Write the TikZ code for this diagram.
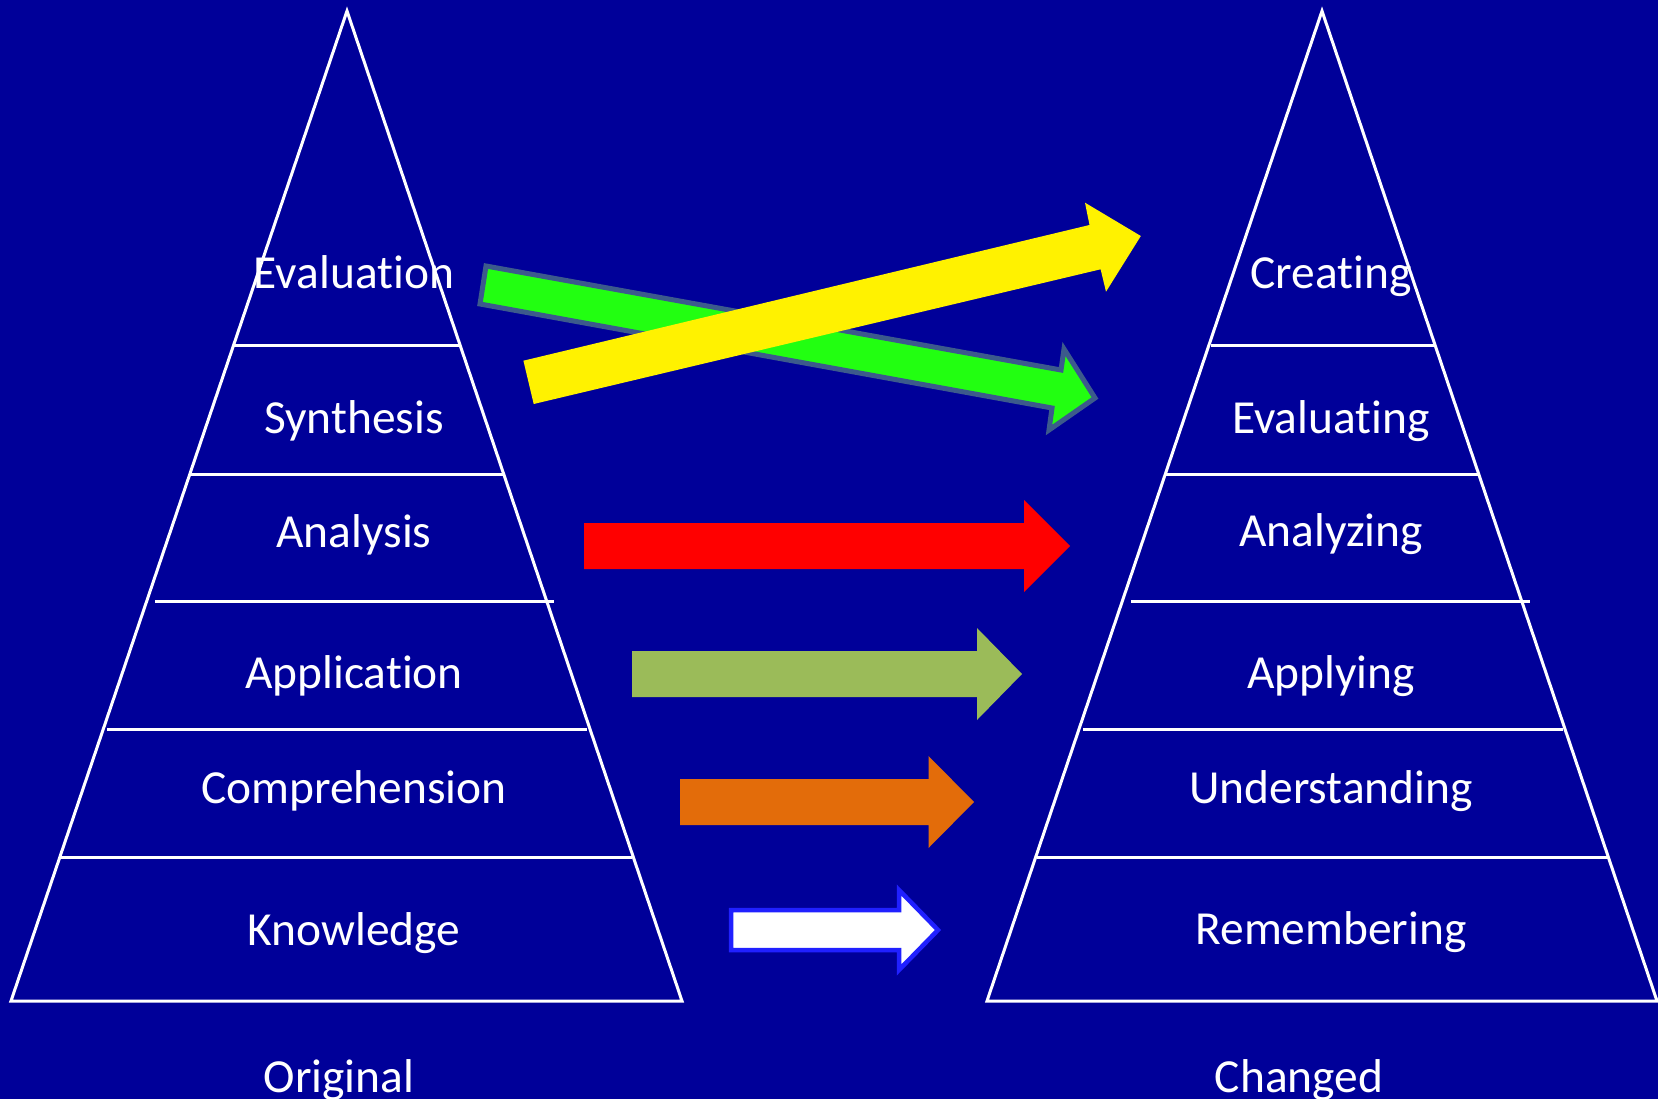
\documentclass[tikz,border=0pt]{standalone}
\usepackage{fontspec}
\setmainfont{Carlito}[RawFeature={-liga;-clig;-calt}]
\definecolor{slide}{RGB}{0,0,153}
\definecolor{lime}{RGB}{34,255,17}
\definecolor{limeedge}{RGB}{60,90,140}
\definecolor{olive}{RGB}{155,187,89}
\definecolor{pumpkin}{RGB}{227,108,10}
\definecolor{whiteedge}{RGB}{32,32,255}
\begin{document}
\begin{tikzpicture}[x=0.1mm,y=-0.1mm,
	level/.style={text=white,font=\fontsize{13.5}{16}\selectfont,anchor=base,inner sep=0pt},
	side/.style={draw=white,line width=0.3mm},
	blockarrow/.style={line join=miter}]
	\fill[slide] (0,0) rectangle (1658,1099);
	\useasboundingbox (0,0) rectangle (1658,1099);
	\clip (0,0) rectangle (1658,1099);

	% ORIGINAL
	\draw[side] (347,11) -- (682,1001) -- (11,1001) -- cycle;
	\foreach \y/\a/\b in {345/234/460, 474/189/505, 601.5/155/554, 729/107/587, 857/61/632}
		\draw[side] (\a,\y) -- (\b,\y);
	\node[level] (evaluation) at (354,289) {Evaluation};
	\node[level] (synthesis) at (354,433) {Synthesis};
	\node[level] (analysis) at (354,547) {Analysis};
	\node[level] (application) at (354,688) {Application};
	\node[level] (comprehension) at (354,803) {Comprehension};
	\node[level] (knowledge) at (354,945) {Knowledge};
	\node[level] (original) at (339,1092) {Original};

	% CHANGED
	\draw[side] (1322,11) -- (1657,1001) -- (987,1001) -- cycle;
	\foreach \y/\a/\b in {345/1211/1436, 474/1166/1480, 601.5/1131/1530, 729/1083/1563, 857/1037/1609}
		\draw[side] (\a,\y) -- (\b,\y);
	\node[level] (creating) at (1331,289) {Creating};
	\node[level] (evaluating) at (1331,433) {Evaluating};
	\node[level] (analyzing) at (1331,546) {Analyzing};
	\node[level] (applying) at (1331,688) {Applying};
	\node[level] (understanding) at (1331,803) {Understanding};
	\node[level] (remembering) at (1331,944) {Remembering};
	\node[level] (changed) at (1299,1092) {Changed};

	% ARROWS
	\draw[blockarrow,fill=lime,draw=limeedge,line width=0.5mm] (486,266) -- (1061,370) -- (1064,349)
		-- (1095,398) -- (1049,430) -- (1052,408) -- (480,304) -- cycle;
	\fill[blockarrow,yellow] (523.4,360.7) -- (1089.5,225) -- (1085,202.7) -- (1140.8,236)
		-- (1106,291.7) -- (1100.6,269.3) -- (533.7,404) -- cycle;
	\fill[blockarrow,red] (584,523) -- (1024,523) -- (1024,500) -- (1070,546)
		-- (1024,592) -- (1024,569) -- (584,569) -- cycle;
	\fill[blockarrow,olive] (632,651) -- (977,651) -- (977,628) -- (1022,674)
		-- (977,720) -- (977,697) -- (632,697) -- cycle;
	\fill[blockarrow,pumpkin] (680,779) -- (928.5,779) -- (928.5,756) -- (974,802)
		-- (928.5,848) -- (928.5,825) -- (680,825) -- cycle;
	\draw[blockarrow,fill=white,draw=whiteedge,line width=0.45mm] (731,910) -- (899,910) -- (899,890)
		-- (938,930) -- (899,970) -- (899,950) -- (731,950) -- cycle;
\end{tikzpicture}
\end{document}
